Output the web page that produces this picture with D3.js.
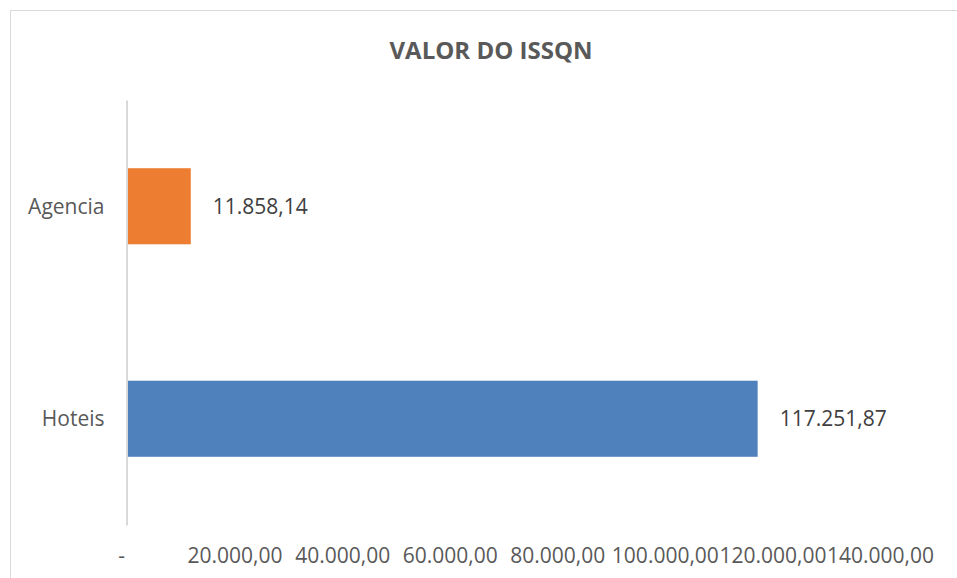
<!DOCTYPE html>
<html>
<head>
<meta charset="utf-8">
<script src="https://cdn.jsdelivr.net/npm/d3@7"></script>
<style>
  body { margin: 0; background: #fff; }
  svg { display: block; font-family: "Open Sans", sans-serif; }
</style>
</head>
<body>
<script>
// DATA

const categories = ["Agencia", "Hoteis"];
const values = [11858.14, 117251.87];
const valueLabels = ["11.858,14", "117.251,87"];
const barColors = ["#ED7D31", "#4F81BD"];
const tickValues = [0, 20000, 40000, 60000, 80000, 100000, 120000, 140000];
const tickLabels = ["-", "20.000,00", "40.000,00", "60.000,00", "80.000,00", "100.000,00", "120.000,00", "140.000,00"];

// MAKE THE CHART

const W = 957;
const H = 578;

const svg = d3.select("body")
  .append("svg")
  .attr("width", W)
  .attr("height", H);

// chart border
svg.append("rect")
  .attr("x", 10.5)
  .attr("y", 10.5)
  .attr("width", W)
  .attr("height", H)
  .attr("fill", "none")
  .attr("stroke", "#d9d9d9")
  .attr("stroke-width", 1);

svg.append("text")
  .text("VALOR DO ISSQN")
  .attr("x", 491)
  .attr("y", 59)
  .attr("text-anchor", "middle")
  .attr("fill", "#595959")
  .style("font-size", "24px")
  .style("font-weight", "bold");

const xScale = d3.scaleLinear()
  .domain([0, 140000])
  .range([127, 880]);

const yScale = d3.scaleBand()
  .domain(categories)
  .range([100, 525])
  .paddingInner(0.642)
  .paddingOuter(0.321);

svg.selectAll("rect.bar")
  .data(categories)
  .enter()
  .append("rect")
  .attr("class", "bar")
  .attr("x", xScale(0))
  .attr("y", d => yScale(d))
  .attr("width", (d, i) => xScale(values[i]) - xScale(0))
  .attr("height", yScale.bandwidth())
  .attr("fill", (d, i) => barColors[i]);

svg.selectAll("text.value")
  .data(categories)
  .enter()
  .append("text")
  .attr("class", "value")
  .attr("x", (d, i) => xScale(values[i]) + 22)
  .attr("y", d => yScale(d) + yScale.bandwidth() / 2)
  .attr("dy", "0.35em")
  .attr("fill", "#404040")
  .style("font-size", "21px")
  .text((d, i) => valueLabels[i]);

// vertical category axis
const yAxis = d3.axisLeft(yScale)
  .tickSize(0)
  .tickPadding(22);

const gy = svg.append("g")
  .attr("transform", `translate(${xScale(0) - 0.5},0)`)
  .call(yAxis);

gy.select(".domain")
  .attr("stroke", "#d9d9d9")
  .attr("stroke-width", 2);

gy.selectAll("text")
  .attr("fill", "#595959")
  .attr("dy", "0.35em")
  .style("font-size", "21px")
  .style("font-family", "'Open Sans', sans-serif");

// value axis (labels only)
const xAxis = d3.axisBottom(xScale)
  .tickValues(tickValues)
  .tickSize(0)
  .tickFormat((d, i) => tickLabels[i]);

const gx = svg.append("g")
  .attr("transform", "translate(0,525)")
  .call(xAxis);

gx.select(".domain").remove();

gx.selectAll("text")
  .attr("y", 38)
  .attr("dy", null)
  .attr("fill", "#595959")
  .style("font-size", "21px")
  .style("font-family", "'Open Sans', sans-serif");

gx.selectAll(".tick")
  .filter((d, i) => i === 0)
  .select("text")
  .attr("dx", -6);
</script>
</body>
</html>
